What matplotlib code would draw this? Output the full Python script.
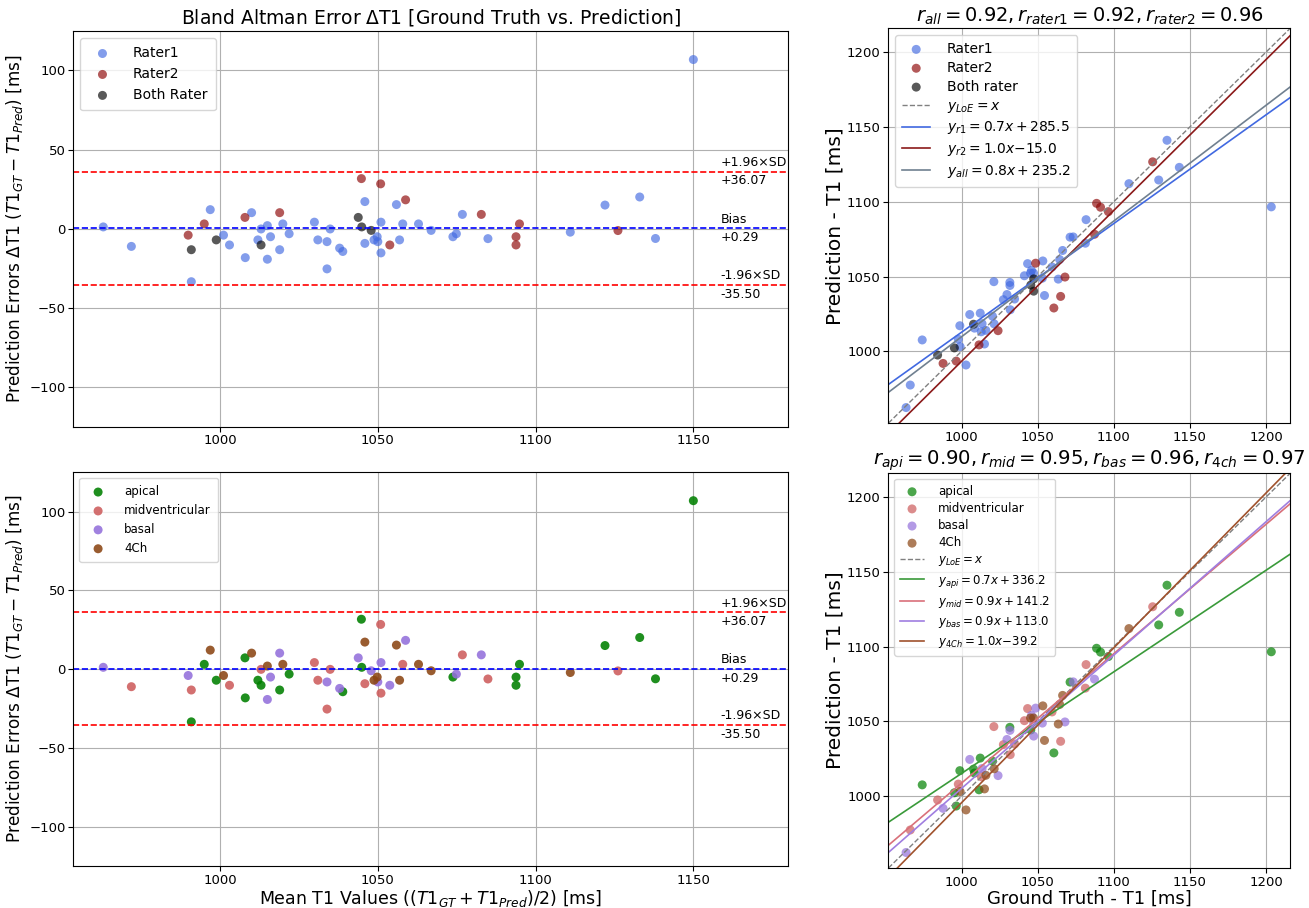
import numpy as np
import matplotlib.pyplot as plt

# Bland-Altman values: mean of (GT, Pred) and GT - Pred
t1_mean = [963.0, 971.9, 989.9, 990.9, 990.9, 995.0, 996.9, 998.8, 1001.1, 1003.0,
           1007.9, 1008.0, 1010.0, 1012.0, 1013.0, 1013.0, 1015.0, 1015.0, 1016.0, 1018.9,
           1018.9, 1019.9, 1021.9, 1029.9, 1031.0, 1033.9, 1033.9, 1034.9, 1037.9, 1038.9,
           1043.8, 1044.8, 1044.9, 1045.9, 1045.9, 1047.9, 1048.8, 1049.8, 1050.0, 1050.9,
           1051.0, 1051.0, 1053.8, 1055.9, 1056.9, 1057.9, 1058.8, 1062.9, 1066.9, 1073.8,
           1074.9, 1076.8, 1082.8, 1084.9, 1093.8, 1093.8, 1094.9, 1111.0, 1122.0, 1126.1,
           1133.0, 1138.0, 1150.0]
t1_diff = [1.2, -11.1, -4.0, -13.2, -33.4, 3.1, 12.1, -7.0, -4.0, -10.2,
           7.2, -18.2, 10.2, -7.0, -0.1, -10.2, 2.0, -19.2, -5.0, 10.2,
           -13.2, 3.1, -3.1, 4.2, -7.0, -8.1, -25.3, -0.1, -12.2, -14.3,
           7.2, 31.7, 1.2, 17.2, -9.2, -1.0, -7.0, -5.0, -8.1, 28.4,
           4.2, -15.2, -10.2, 15.3, -7.0, 3.1, 18.3, 3.1, -1.0, -5.0,
           -3.1, 9.1, 9.1, -6.2, -5.0, -10.2, 3.1, -2.1, 15.0, -1.1,
           20.1, -6.1, 106.9]
rater = ['r1', 'r1', 'r2', 'both', 'r1', 'r2', 'r1', 'both', 'r1', 'r1',
         'r2', 'r1', 'r1', 'r1', 'r1', 'both', 'r1', 'r1', 'r1', 'r2',
         'r1', 'r1', 'r1', 'r1', 'r1', 'r1', 'r1', 'r1', 'r1', 'r1',
         'both', 'r2', 'both', 'r1', 'r1', 'both', 'r1', 'r1', 'r1', 'r2',
         'r1', 'r1', 'r2', 'r1', 'r1', 'r1', 'r2', 'r1', 'r1', 'r1',
         'r1', 'r1', 'r2', 'r1', 'r2', 'r2', 'r2', 'r1', 'r1', 'r2',
         'r1', 'r1', 'r1']
region = ['bas', 'mid', 'bas', 'mid', 'api', 'api', '4ch', 'api', '4ch', 'mid',
          'api', 'api', '4ch', 'api', 'mid', 'api', '4ch', 'bas', 'bas', 'bas',
          'api', '4ch', 'api', 'mid', 'mid', 'bas', 'mid', 'mid', 'bas', 'api',
          'bas', 'api', 'api', '4ch', 'mid', 'bas', '4ch', '4ch', 'bas', 'mid',
          'bas', 'mid', 'bas', '4ch', '4ch', 'mid', 'bas', '4ch', '4ch', 'api',
          'bas', 'mid', 'bas', 'mid', 'api', 'api', 'api', '4ch', 'api', 'mid',
          'api', 'api', 'api']

bias = 0.29
loa_upper = 36.07
loa_lower = -35.50

rater_keys = ['r1', 'r2', 'both']
rater_names = ['Rater1', 'Rater2', 'Both Rater']
rater_names_corr = ['Rater1', 'Rater2', 'Both rater']
rater_colors = ['royalblue', 'darkred', 'black']
rater_fit_labels = [r'$y_{r1} = 0.7x + 285.5$', r'$y_{r2} = 1.0x{-}15.0$', r'$y_{all} = 0.8x + 235.2$']
rater_fit_colors = ['royalblue', '#8b1a1a', 'slategray']
rater_title = r'$r_{all} = 0.92, r_{rater1} = 0.92, r_{rater2} = 0.96$'

region_keys = ['api', 'mid', 'bas', '4ch']
region_names = ['apical', 'midventricular', 'basal', '4Ch']
region_colors = ['green', 'indianred', 'mediumpurple', 'saddlebrown']
region_fit_labels = [r'$y_{api} = 0.7x + 336.2$', r'$y_{mid} = 0.9x + 141.2$',
                     r'$y_{bas} = 0.9x + 113.0$', r'$y_{4Ch} = 1.0x{-}39.2$']
region_fit_colors = ['#3a9a3a', '#d9707a', '#a07ee0', '#a0522d']
region_title = r'$r_{api} = 0.90, r_{mid} = 0.95, r_{bas} = 0.96, r_{4ch} = 0.97$'

t1_mean = np.array(t1_mean)
t1_diff = np.array(t1_diff)
rater = np.array(rater)
region = np.array(region)
gt = t1_mean + t1_diff / 2
pred = t1_mean - t1_diff / 2

fig = plt.figure(figsize=(13.09, 9.08), dpi=100)
ax_ba1 = fig.add_axes([0.056, 0.530, 0.546, 0.436])
ax_ba2 = fig.add_axes([0.056, 0.046, 0.546, 0.434])
ax_c1 = fig.add_axes([0.6787, 0.534, 0.3071, 0.435])
ax_c2 = fig.add_axes([0.6787, 0.044, 0.3071, 0.435])


def bland_altman(ax, keys, names, colors, cats, alpha, leg_size):
    for k, n, c in zip(keys, names, colors):
        m = cats == k
        ax.scatter(t1_mean[m], t1_diff[m], s=42, color=c, alpha=alpha, edgecolors='none', label=n)
    ax.axhline(bias, color='blue', ls='--', lw=1.2)
    ax.axhline(loa_upper, color='red', ls='--', lw=1.2)
    ax.axhline(loa_lower, color='red', ls='--', lw=1.2)
    tr = ax.get_yaxis_transform()
    for y, top, bot in [(loa_upper, '+1.96×SD', f'+{loa_upper:.2f}'),
                        (bias, 'Bias', f'+{bias:.2f}'),
                        (loa_lower, '-1.96×SD', f'{loa_lower:.2f}')]:
        ax.annotate(top, (0.906, y), xycoords=tr, xytext=(0, 2), textcoords='offset points',
                    ha='left', va='bottom', fontsize=9)
        ax.annotate(bot, (0.906, y), xycoords=tr, xytext=(0, -2), textcoords='offset points',
                    ha='left', va='top', fontsize=9)
    ax.set_xlim(953.5, 1180)
    ax.set_ylim(-125, 125)
    ax.set_xticks([1000, 1050, 1100, 1150])
    ax.grid(True)
    ax.set_axisbelow(True)
    ax.tick_params(labelsize=9.5, pad=2)
    ax.set_ylabel(r'Prediction Errors $\Delta$T1 ($T1_{GT} - T1_{Pred}$) [ms]', fontsize=12.2, labelpad=3)
    ax.legend(loc='upper left', fontsize=leg_size, borderpad=0.6, handletextpad=1.2)


def correlation(ax, keys, names, colors, cats, alpha, fit_cats, fit_labels, fit_colors, title,
                leg_size, title_size):
    for k, n, c in zip(keys, names, colors):
        m = cats == k
        ax.scatter(gt[m], pred[m], s=42, color=c, alpha=alpha, edgecolors='none', label=n)
    lim = (952, 1216)
    xs = np.array(lim)
    ax.plot(xs, xs, ls='--', color='gray', lw=1, label=r'$y_{LoE} = x$')
    for fc, lab, col in zip(fit_cats, fit_labels, fit_colors):
        m = np.ones(len(gt), bool) if fc == 'all' else cats == fc
        a, b = np.polyfit(gt[m], pred[m], 1)
        ax.plot(xs, a * xs + b, color=col, lw=1.2, label=lab)
    ax.set_xlim(lim)
    ax.set_ylim(lim)
    ax.set_xticks([1000, 1050, 1100, 1150, 1200])
    ax.set_yticks([1000, 1050, 1100, 1150, 1200])
    ax.grid(True)
    ax.set_axisbelow(True)
    ax.tick_params(labelsize=9.5, pad=2)
    ax.set_ylabel('Prediction - T1 [ms]', fontsize=14.5, labelpad=2)
    ax.set_title(title, fontsize=title_size, pad=5)
    ax.legend(loc='upper left', fontsize=leg_size, borderpad=0.5, handletextpad=1.2, labelspacing=0.35)


bland_altman(ax_ba1, rater_keys, rater_names, rater_colors, rater, 0.65, 10)
ax_ba1.set_title(r'Bland Altman Error $\Delta$T1 [Ground Truth vs. Prediction]', fontsize=13.5, pad=5)
bland_altman(ax_ba2, region_keys, region_names, region_colors, region, 0.88, 8.5)
ax_ba2.set_xlabel(r'Mean T1 Values (($T1_{GT} + T1_{Pred}$)/2) [ms]', fontsize=12.5, labelpad=1)

correlation(ax_c1, rater_keys, rater_names_corr, rater_colors, rater, 0.65,
            ['r1', 'r2', 'all'], rater_fit_labels, rater_fit_colors, rater_title, 10, 14)
correlation(ax_c2, region_keys, region_names, region_colors, region, 0.7,
            region_keys, region_fit_labels, region_fit_colors, region_title, 8.5, 14.1)
ax_c2.set_xlabel('Ground Truth - T1 [ms]', fontsize=13, labelpad=1)

fig.savefig('out.png', dpi=100)
